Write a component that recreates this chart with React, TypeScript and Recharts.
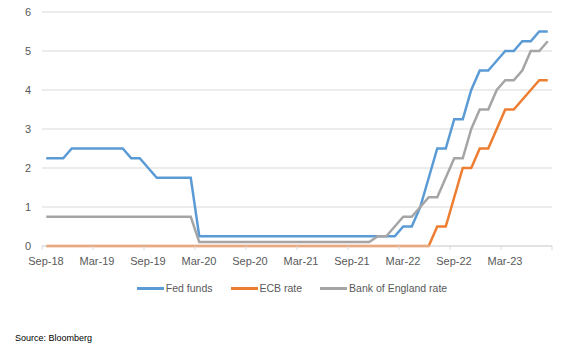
import React from "react";
import { LineChart, Line, XAxis, YAxis, CartesianGrid } from "recharts";

// monthly, month-end values Sep-18 .. Aug-23
const tickLabels = ["Sep-18", "Mar-19", "Sep-19", "Mar-20", "Sep-20", "Mar-21", "Sep-21", "Mar-22", "Sep-22", "Mar-23"];

const fedFunds = [
  2.25, 2.25, 2.25, 2.5, 2.5, 2.5, 2.5, 2.5, 2.5, 2.5, 2.25, 2.25, 2.0, 1.75, 1.75, 1.75, 1.75, 1.75,
  0.25, 0.25, 0.25, 0.25, 0.25, 0.25, 0.25, 0.25, 0.25, 0.25, 0.25, 0.25,
  0.25, 0.25, 0.25, 0.25, 0.25, 0.25, 0.25, 0.25, 0.25, 0.25, 0.25, 0.25,
  0.5, 0.5, 1.0, 1.75, 2.5, 2.5, 3.25, 3.25, 4.0, 4.5, 4.5, 4.75, 5.0, 5.0, 5.25, 5.25, 5.5, 5.5,
];

const ecbRate = [
  0, 0, 0, 0, 0, 0, 0, 0, 0, 0, 0, 0, 0, 0, 0, 0, 0, 0,
  0, 0, 0, 0, 0, 0, 0, 0, 0, 0, 0, 0,
  0, 0, 0, 0, 0, 0, 0, 0, 0, 0, 0, 0,
  0, 0, 0, 0, 0.5, 0.5, 1.25, 2.0, 2.0, 2.5, 2.5, 3.0, 3.5, 3.5, 3.75, 4.0, 4.25, 4.25,
];

const boeRate = [
  0.75, 0.75, 0.75, 0.75, 0.75, 0.75, 0.75, 0.75, 0.75, 0.75, 0.75, 0.75, 0.75, 0.75, 0.75, 0.75, 0.75, 0.75,
  0.1, 0.1, 0.1, 0.1, 0.1, 0.1, 0.1, 0.1, 0.1, 0.1, 0.1, 0.1,
  0.1, 0.1, 0.1, 0.1, 0.1, 0.1, 0.1, 0.1, 0.1, 0.25, 0.25, 0.5,
  0.75, 0.75, 1.0, 1.25, 1.25, 1.75, 2.25, 2.25, 3.0, 3.5, 3.5, 4.0, 4.25, 4.25, 4.5, 5.0, 5.0, 5.25,
];

const data = fedFunds.map((v, i) => ({ x: i + 0.5, fed: v, ecb: ecbRate[i], boe: boeRate[i] }));

const series = [
  { key: "fed", name: "Fed funds", color: "#5b9bd5" },
  { key: "ecb", name: "ECB rate", color: "#ed7d31" },
  { key: "boe", name: "Bank of England rate", color: "#a5a5a5" },
];

const font = "'Liberation Sans', Arial, sans-serif";

export default function App() {
  return (
    <div style={{ position: "absolute", left: 0, top: 0, width: 572, height: 351, background: "#fff", fontFamily: font }}>
      <LineChart width={572} height={275} data={data} margin={{ top: 12, right: 20, left: 0, bottom: 0 }}>
        <CartesianGrid vertical={false} stroke="#d9d9d9" />
        <XAxis
          dataKey="x"
          type="number"
          domain={[0, 60]}
          ticks={[0, 6, 12, 18, 24, 30, 36, 42, 48, 54, 60]}
          tickFormatter={(v: number) => tickLabels[v / 6] ?? ""}
          tick={{ fontSize: 11, fill: "#595959", fontFamily: font, dx: 4 }}
          axisLine={{ stroke: "#d9d9d9" }}
          tickLine={{ stroke: "#d9d9d9" }}
          tickSize={4}
          tickMargin={7}
          height={29}
          interval={0}
        />
        <YAxis
          domain={[0, 6]}
          ticks={[0, 1, 2, 3, 4, 5, 6]}
          tick={{ fontSize: 11, fill: "#595959", fontFamily: font }}
          axisLine={false}
          tickLine={false}
          tickMargin={5}
          width={42}
        />
        {series.map((s) => (
          <Line
            key={s.key}
            type="linear"
            dataKey={s.key}
            name={s.name}
            stroke={s.color}
            strokeWidth={2.5}
            dot={false}
            isAnimationActive={false}
          />
        ))}
      </LineChart>
      <div
        style={{
          position: "absolute",
          top: 281,
          left: 12,
          width: 560,
          display: "flex",
          justifyContent: "center",
          fontSize: 10.5,
          color: "#595959",
          lineHeight: "14px",
        }}
      >
        {series.map((s, i) => (
          <div key={s.key} style={{ display: "flex", alignItems: "center", marginLeft: i ? 18 : 0 }}>
            <span style={{ display: "inline-block", width: 27, height: 3, background: s.color, marginRight: 2 }} />
            <span>{s.name}</span>
          </div>
        ))}
      </div>
      <div style={{ position: "absolute", left: 15, top: 332, fontSize: 9, color: "#000", lineHeight: "12px" }}>
        Source: Bloomberg
      </div>
    </div>
  );
}
